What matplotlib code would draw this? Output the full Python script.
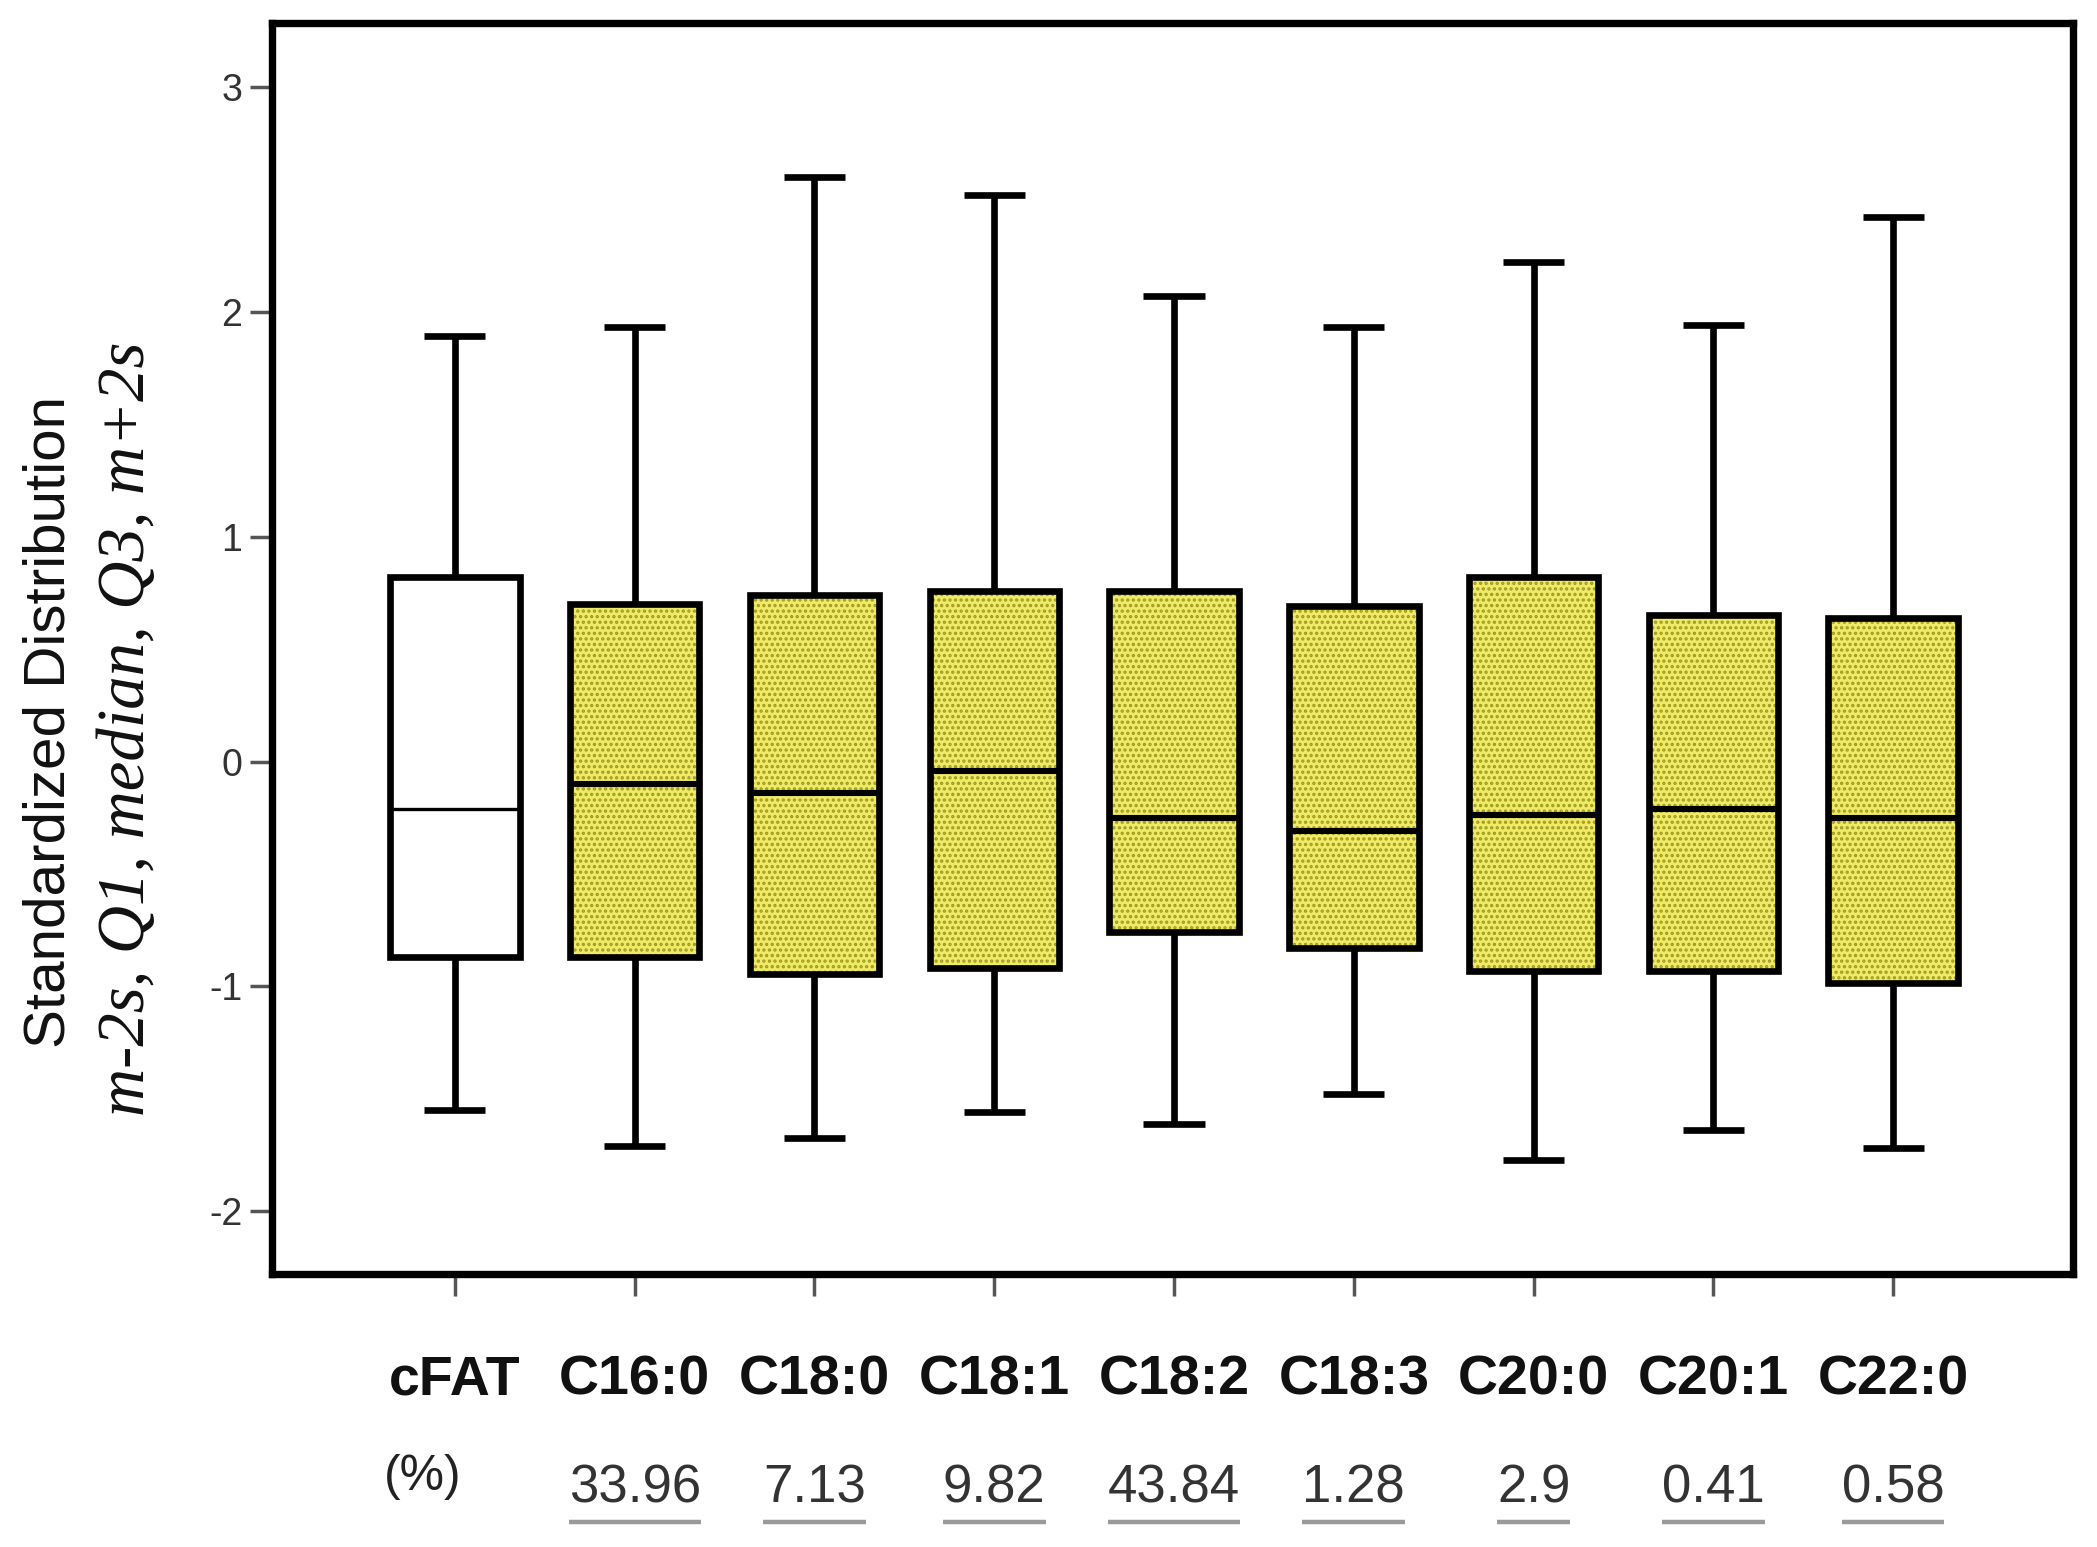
import matplotlib
matplotlib.use('Agg')
import matplotlib.pyplot as plt
from matplotlib.lines import Line2D
from matplotlib.transforms import blended_transform_factory

# ---- data ----
names = ['cFAT', 'C16:0', 'C18:0', 'C18:1', 'C18:2', 'C18:3', 'C20:0', 'C20:1', 'C22:0']
percent = ['33.96', '7.13', '9.82', '43.84', '1.28', '2.9', '0.41', '0.58']
whis_hi = [1.89, 1.93, 2.60, 2.52, 2.07, 1.93, 2.22, 1.94, 2.42]
q3_vals = [0.82, 0.70, 0.74, 0.76, 0.76, 0.69, 0.82, 0.65, 0.64]
medians = [-0.21, -0.10, -0.14, -0.04, -0.25, -0.31, -0.24, -0.21, -0.25]
q1_vals = [-0.87, -0.87, -0.945, -0.92, -0.76, -0.83, -0.93, -0.93, -0.985]
whis_lo = [-1.55, -1.71, -1.675, -1.56, -1.61, -1.48, -1.77, -1.64, -1.72]
yticks = [-2, -1, 0, 1, 2, 3]
ytick_labels = ['-2', '-1', '0', '1', '2', '3']

stats = [dict(label=n, whislo=lo, q1=a, med=m, q3=b, whishi=hi, fliers=[])
         for n, lo, a, m, b, hi in zip(names, whis_lo, q1_vals, medians, q3_vals, whis_hi)]
positions = list(range(len(names)))

plt.rcParams['hatch.linewidth'] = 1.6

fig = plt.figure(figsize=(20.97, 15.47), dpi=100)
ax = fig.add_axes([0.1295, 0.1763, 0.8590, 0.8090])

YELLOW = '#EFEB68'
DOTS = '#A09A20'

# underlay: dotted yellow fill
under = ax.bxp(stats, positions=positions, widths=0.72, patch_artist=True,
               showcaps=False, manage_ticks=False,
               boxprops=dict(linewidth=0, facecolor=YELLOW, edgecolor=DOTS, hatch='...'),
               whiskerprops=dict(linewidth=0), medianprops=dict(linewidth=0))
for p in under['boxes']:
    p.set_zorder(1)
under['boxes'][0].set_facecolor('white')
under['boxes'][0].set_hatch(None)

main = ax.bxp(stats, positions=positions, widths=0.72, patch_artist=True,
              manage_ticks=False, capwidths=0.34,
              boxprops=dict(linewidth=4.8, facecolor='none', edgecolor='black'),
              whiskerprops=dict(linewidth=4.8, color='black', solid_capstyle='butt'),
              capprops=dict(linewidth=4.8, color='black', solid_capstyle='butt'),
              medianprops=dict(linewidth=4.4, color='black', solid_capstyle='butt'))
for p in main['boxes']:
    p.set_zorder(3)
main['medians'][0].set_linewidth(2.4)

ax.set_xlim(-1.02, 9.0)
ax.set_ylim(-2.28, 3.285)

for s in ax.spines.values():
    s.set_linewidth(5.3)
    s.set_color('black')

ax.set_yticks(yticks)
ax.set_yticklabels(ytick_labels, family='Liberation Sans', fontsize=27, color='#333333')
ax.tick_params(axis='y', direction='out', length=16, width=2.5, color='#555555', pad=5)

ax.set_xticks(positions)
ax.set_xticklabels(names, family='Liberation Sans',
                   fontweight='bold', fontsize=40, color='#111111')
ax.tick_params(axis='x', direction='out', length=16, width=2.5, color='#555555', pad=42)

# y-axis labels (two lines)
fig.text(0.0235, 0.533, 'Standardized Distribution', rotation=90, ha='center', va='center',
         family='Liberation Sans', fontsize=42, color='#111111')
fig.text(0.0606, 0.529, 'm-2s, Q1, median, Q3, m+2s', rotation=90, ha='center', va='center',
         family='Liberation Serif', style='italic', fontsize=48, color='#111111')

# percentage row
trans = blended_transform_factory(ax.transData, fig.transFigure)
ax.text(-0.18, 0.045, '(%)', transform=trans, ha='center', va='center',
        family='Liberation Sans', fontsize=36, color='#222222')
pct_texts = []
for x, v in zip(positions[1:], percent):
    t = ax.text(x, 0.038, v, transform=trans, ha='center', va='center',
                family='Liberation Sans', fontsize=38, color='#333333')
    pct_texts.append(t)

fig.canvas.draw()
r = fig.canvas.get_renderer()
W, H = fig.bbox.width, fig.bbox.height
for t in pct_texts:
    bb = t.get_window_extent(r)
    y = (bb.y0 - 9) / H
    fig.add_artist(Line2D([bb.x0 / W, bb.x1 / W], [y, y], transform=fig.transFigure,
                          color='#9a9a9a', linewidth=3.2, solid_capstyle='butt'))

fig.savefig('out.png', dpi=100)
